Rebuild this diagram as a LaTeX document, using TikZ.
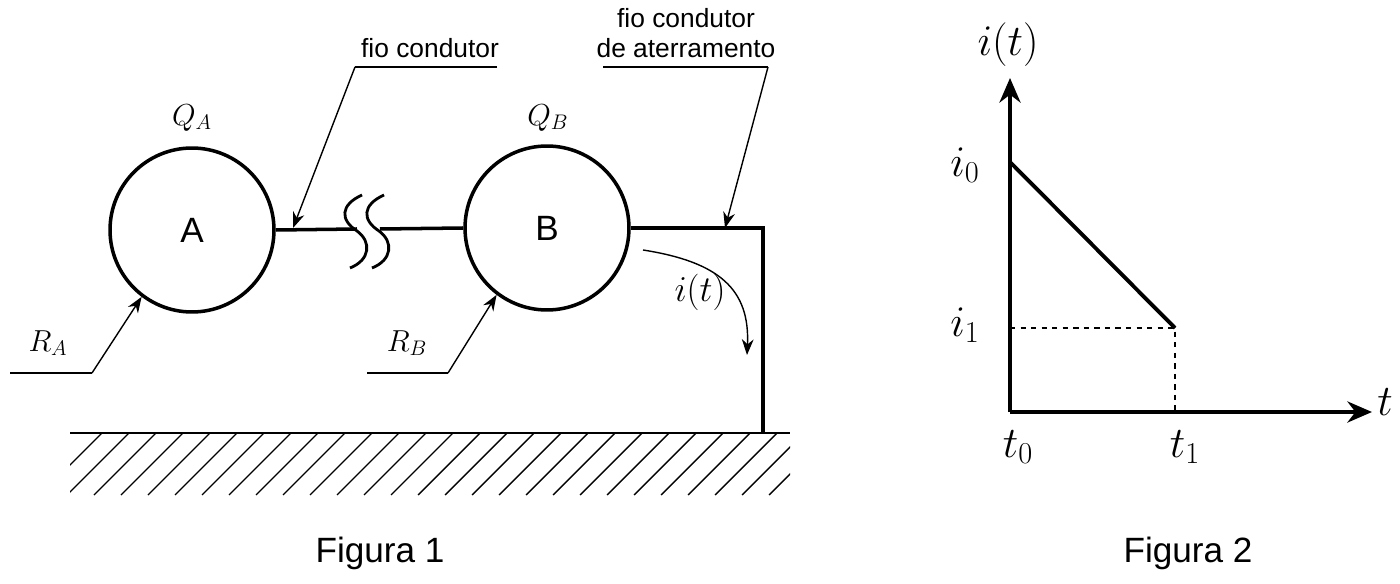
\documentclass[tikz,border=0pt]{standalone}
\usepackage{fontspec}
\setsansfont{Liberation Sans}
\usetikzlibrary{arrows.meta}
\begin{document}
\begin{tikzpicture}
      [x=.02cm,y=-.02cm
      ,esf/.style={circle,draw,line width=2pt,minimum size=3.28cm,font=\sffamily\fontsize{20}{24}\selectfont}
      ,fio/.style={line width=2pt}
      ,ptr/.style={-{Stealth[length=9pt]},line width=.8pt}
      ,fin/.style={line width=.8pt}
      ,rot/.style={font=\sffamily\fontsize{15}{17}\selectfont}
      ,mat/.style={font=\fontsize{17}{20}\selectfont}
      ,eixo/.style={line width=2.2pt,-{Stealth[length=14pt,width=12pt]}}
      ,grf/.style={font=\fontsize{25}{30}\selectfont}
      ,leg/.style={font=\sffamily\fontsize{20}{24}\selectfont}
      ]
        \useasboundingbox (0,0) rectangle (1400,584);
        % esferas
        \node[esf] (A) at (192,230) {A};
        \node[esf] (B) at (547,228) {B};
        \node[mat] (QA) at (192,118) {$Q_A$};
        \node[mat] (QB) at (548,118) {$Q_B$};
        % fio entre as esferas, com quebra
        \coordinate (q1) at (357,229);
        \coordinate (q2) at (380,229);
        \draw[fio] (A.east) -- (q1);
        \draw[fio] (q2) -- (B.west);
        \foreach \d in {0,22}{
          \draw[line width=1.6pt] (362+\d,195) .. controls (340+\d,205) and (340+\d,220) .. (357+\d,231)
            .. controls (372+\d,242) and (370+\d,260) .. (350+\d,268);
        }
        % fio de aterramento
        \coordinate (c1) at (763,228);
        \coordinate (c2) at (763,433);
        \draw[fio] (B.east) -- (c1) -- (c2);
        % solo
        \begin{scope}
          \clip (70,433) rectangle (790,495);
          \foreach \i in {0,1,...,28}{
            \draw[fin] (40+\i*27,495) -- (102+\i*27,433);
          }
        \end{scope}
        \draw[line width=1.4pt] (70,433) -- (790,433);
        % rotulos
        \node[rot] (f1) at (430,48) {fio condutor};
        \coordinate (f1a) at (355,67);
        \coordinate (f1b) at (497,67);
        \draw[fin] (f1b) -- (f1a);
        \coordinate (f1c) at (293,228);
        \draw[ptr] (f1a) -- (f1c);
        \node[rot,align=center] (f2) at (686,33) {fio condutor\\de aterramento};
        \coordinate (f2a) at (603,67);
        \coordinate (f2b) at (768,67);
        \draw[fin] (f2a) -- (f2b);
        \coordinate (f2c) at (725,228);
        \draw[ptr] (f2b) -- (f2c);
        \node[mat] (RA) at (48,343) {$R_A$};
        \coordinate (ra1) at (10,373);
        \coordinate (ra2) at (92,373);
        \draw[fin] (ra1) -- (ra2);
        \draw[ptr] (ra2) -- (A.-127);
        \node[mat] (RB) at (407,343) {$R_B$};
        \coordinate (rb1) at (367,373);
        \coordinate (rb2) at (448,373);
        \draw[fin] (rb1) -- (rb2);
        \draw[ptr] (rb2) -- (B.-127);
        % corrente
        \node[font=\fontsize{21}{25}\selectfont] (it) at (700,292) {$i(t)$};
        \coordinate (i1) at (643,250);
        \coordinate (i2) at (747,355);
        \draw[ptr] (i1) .. controls (720,262) and (750,290) .. (i2);
        \node[leg] (fig1) at (380,553) {Figura 1};
        % grafico
        \coordinate (O) at (1010,412);
        \coordinate (yt) at (1010,78);
        \coordinate (xt) at (1372,412);
        \draw[eixo] (O) -- (yt);
        \draw[eixo] (O) -- (xt);
        \coordinate (p0) at (1010,162);
        \coordinate (p1) at (1175,328);
        \coordinate (p2) at (1010,328);
        \coordinate (p3) at (1175,412);
        \draw[line width=2.2pt] (p0) -- (p1);
        \draw[dashed,line width=.8pt] (p2) -- (p1) -- (p3);
        \node[grf] (it2) at (1008,45) {$i(t)$};
        \node[grf] (t) at (1385,402) {$t$};
        \node[grf] (i0) at (965,165) {$i_0$};
        \node[grf] (i1l) at (965,325) {$i_1$};
        \node[grf] (t0) at (1018,447) {$t_0$};
        \node[grf] (t1) at (1185,447) {$t_1$};
        \node[leg] (fig2) at (1188,553) {Figura 2};
      \end{tikzpicture}
\end{document}
